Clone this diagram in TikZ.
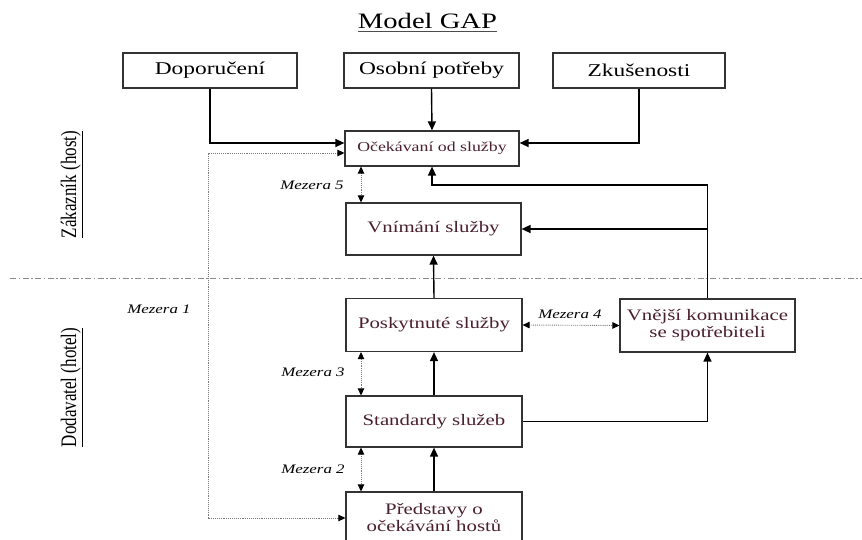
\documentclass[tikz,border=0pt]{standalone}
\usepackage{fontspec}
\setmainfont{Liberation Serif}[FakeStretch=1.3]
\newfontfamily\plainfont{Liberation Serif}
\usetikzlibrary{arrows.meta,calc}
\definecolor{wine}{HTML}{4A1F2E}
\definecolor{boxline}{HTML}{333333}
\definecolor{dotgray}{HTML}{7A7A7A}
\definecolor{sepgray}{HTML}{8A8A8A}
\begin{document}
\begin{tikzpicture}[x=1pt,y=-1pt,
  box/.style={draw=boxline, line width=1.2pt, rectangle, inner sep=0pt, align=center},
  topbox/.style={box, minimum height=35pt, font=\fontsize{18}{20}\selectfont},
  wbox/.style={box, text=wine, font=\fontsize{16}{17}\selectfont},
  arr/.style={line width=1.4pt, -{Triangle[length=9pt,width=8pt]}},
  dotarr/.style={draw=dotgray, line width=0.9pt, densely dotted,
     {Triangle[length=7pt,width=6.5pt,color=black]}-{Triangle[length=7pt,width=6.5pt,color=black]}},
  gaplabel/.style={font=\itshape\fontsize{13}{15}\selectfont},
  sidelabel/.style={rotate=90, inner sep=0pt}]
\clip (0,0) rectangle (862,540);
\fill[white] (0,0) rectangle (862,540);

% title
\node[anchor=base, inner sep=0pt] (title) at (427.5,29) {\fontsize{22}{24}\selectfont Model GAP};
\draw[line width=1pt, black!70] ([yshift=-3pt]title.base west) -- ([yshift=-3pt]title.base east);

% side labels
\node[sidelabel] (zak) at (72,184.5) {\scalebox{1}[1.3]{\plainfont\fontsize{17}{19}\selectfont\underline{Zákazník (host)}}};
\node[sidelabel] (dod) at (72,387.5) {\scalebox{1}[1.3]{\plainfont\fontsize{17}{19}\selectfont\underline{Dodavatel (hotel)}}};

% separator
\coordinate (sepL) at (10,278);
\coordinate (sepR) at (862,278);
\draw[sepgray, line width=0.9pt, dash pattern=on 6pt off 2.5pt on 1.5pt off 2.5pt] (sepL) -- (sepR);

% top boxes
\node[topbox, minimum width=174pt] (dop) at (210,70.5) {Doporučení};
\node[topbox, minimum width=175pt] (osob) at (431.5,70.5) {Osobní potřeby};
\node[topbox, minimum width=172pt] (zkus) at (639,70.5) {Zkušenosti};

% main boxes
\node[box, text=wine, minimum width=174pt, minimum height=35pt, font=\fontsize{13.7}{15}\selectfont] (ocek) at (432,148.5) {Očekávaní od služby};
\node[wbox, minimum width=175pt, minimum height=52pt] (vnim) at (433.5,229) {Vnímání služby};
\node[wbox, minimum width=176pt, minimum height=53pt] (posk) at (434,325) {Poskytnuté služby};
\node[wbox, minimum width=176pt, minimum height=51pt] (stand) at (434,421.5) {Standardy služeb};
\node[wbox, minimum width=176pt, minimum height=52pt] (pred) at (434,518) {Představy o\\očekávání hostů};
\node[wbox, minimum width=175pt, minimum height=53pt] (vnej) at (707.5,325.5) {Vnější komunikace\\se spotřebiteli};

% helper coordinates
\coordinate (gx) at (361,0);
\coordinate (lx) at (208,0);
\coordinate (topy) at (0,185);

% solid connectors
\draw[arr] (dop.south) |- ($(ocek.west)+(0,-5.5)$);
\draw[arr] (osob.south) -- (ocek.north);
\draw[arr] (zkus.south) |- ($(ocek.east)+(0,-5.5)$);
\draw[arr] (vnej.north) -- (vnej.north |- topy) -| (ocek.south);
\draw[arr] (vnej.north |- vnim.east) -- (vnim.east);
\draw[arr] (posk.north) -- (vnim.south);
\draw[arr] (stand.north) -- (posk.south);
\draw[arr] (pred.north) -- (stand.south);
\draw[arr] (stand.east) -| (vnej.south);

% gaps (dotted)
\draw[dotarr] ($(ocek.west)+(0,4.5)$) -| (pred.west -| lx) -- (pred.west);
\draw[dotarr] (ocek.south -| gx) -- (vnim.north -| gx);
\draw[dotarr] (posk.south -| gx) -- (stand.north -| gx);
\draw[dotarr] (stand.south -| gx) -- (pred.north -| gx);
\draw[dotarr] (posk.east) -- (vnej.west);

% gap labels
\node[gaplabel] (m1) at (159,309) {Mezera 1};
\node[gaplabel] (m2) at (313,469) {Mezera 2};
\node[gaplabel] (m3) at (313,372) {Mezera 3};
\node[gaplabel] (m4) at (570,314) {Mezera 4};
\node[gaplabel] (m5) at (312,185) {Mezera 5};
\end{tikzpicture}
\end{document}
